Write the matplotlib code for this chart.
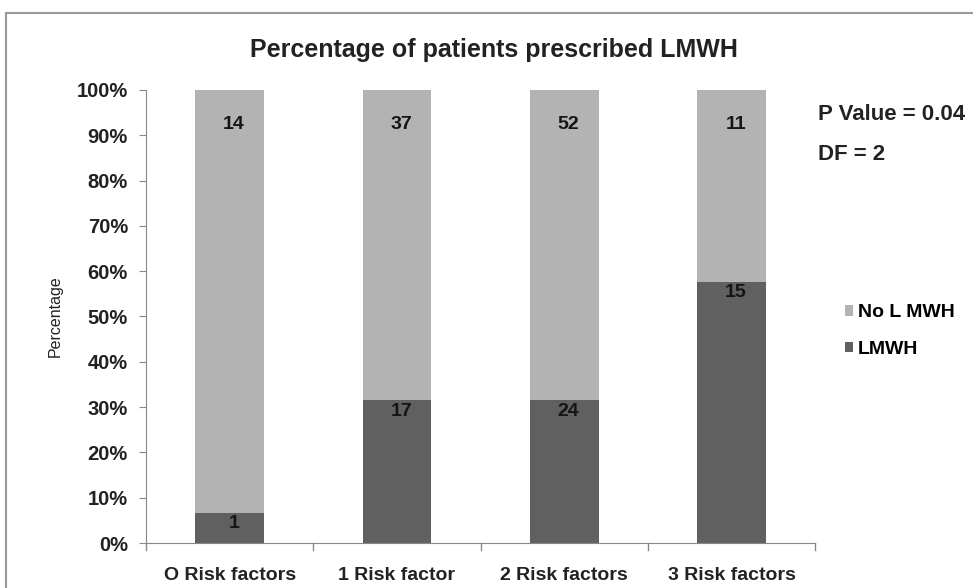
import matplotlib
matplotlib.use("Agg")
import matplotlib.pyplot as plt
from matplotlib.patches import Rectangle
import numpy as np

plt.rcParams['font.family'] = ['Liberation Sans', 'DejaVu Sans']

categories = ["O Risk factors", "1 Risk factor", "2 Risk factors", "3 Risk factors"]
lmwh = [1, 17, 24, 15]
no_lmwh = [14, 37, 52, 11]
yticks = [0, 10, 20, 30, 40, 50, 60, 70, 80, 90, 100]
ytick_labels = ["0%", "10%", "20%", "30%", "40%", "50%", "60%", "70%", "80%", "90%", "100%"]

lm = np.array(lmwh, float)
nl = np.array(no_lmwh, float)
tot = lm + nl
lm_pct = lm / tot * 100
nl_pct = nl / tot * 100

fig = plt.figure(figsize=(9.73, 5.88), dpi=100)
ax = fig.add_axes([0.150, 0.0765, 0.688, 0.7705])

x = np.arange(len(categories))
dark = "#606060"
light = "#b3b3b3"
w = 0.41
ax.bar(x, lm_pct, width=w, color=dark, label="LMWH", zorder=2)
ax.bar(x, nl_pct, width=w, bottom=lm_pct, color=light, label="No L MWH", zorder=2)

for i in range(len(x)):
    ax.annotate(str(lmwh[i]), (x[i], lm_pct[i]), xytext=(3, -8), textcoords="offset points",
                ha="center", va="center", fontsize=14, fontweight="bold", color="#151515")
    ax.annotate(str(no_lmwh[i]), (x[i], 100), xytext=(3, -25), textcoords="offset points",
                ha="center", va="center", fontsize=14, fontweight="bold", color="#151515")

ax.set_xlim(-0.5, len(categories) - 0.5)
ax.set_ylim(0, 100)
ax.set_yticks(yticks)
ax.set_yticklabels(ytick_labels, fontsize=14.5, fontweight="bold", color="#222222")
ax.set_xticks(x)
ax.set_xticklabels(categories, fontsize=14, fontweight="bold", color="#222222")
ax.tick_params(axis="x", length=0, pad=17)
ax.tick_params(axis="y", length=5, color="#888888", direction="out", pad=8)
for b in np.arange(-0.5, len(categories) + 0.5, 1):
    ax.plot([b, b], [0, -1.6], color="#888888", lw=1, clip_on=False)

for s in ["top", "right"]:
    ax.spines[s].set_visible(False)
for s in ["left", "bottom"]:
    ax.spines[s].set_color("#888888")
ax.set_ylabel("Percentage", fontsize=11.5, labelpad=10, color="#222222")

fig.text(0.508, 0.915, "Percentage of patients prescribed LMWH", ha="center", va="center",
         fontsize=18, fontweight="bold", color="#222222")
fig.text(0.841, 0.805, "P Value = 0.04", ha="left", va="center", fontsize=16, fontweight="bold", color="#222222")
fig.text(0.841, 0.737, "DF = 2", ha="left", va="center", fontsize=16, fontweight="bold", color="#222222")

handles, labels = ax.get_legend_handles_labels()
leg = fig.legend(handles[::-1], labels[::-1], loc="center left", bbox_to_anchor=(0.850, 0.437),
                 frameon=False, handlelength=0.45, handleheight=0.45, handletextpad=0.25,
                 labelspacing=1.0, prop={"weight": "bold", "size": 14})

fig.patches.append(Rectangle((0.006, -0.1), 1.2, 1.078, transform=fig.transFigure,
                             fill=False, edgecolor="#999999", lw=1.5))

fig.savefig("out.png", dpi=100)
